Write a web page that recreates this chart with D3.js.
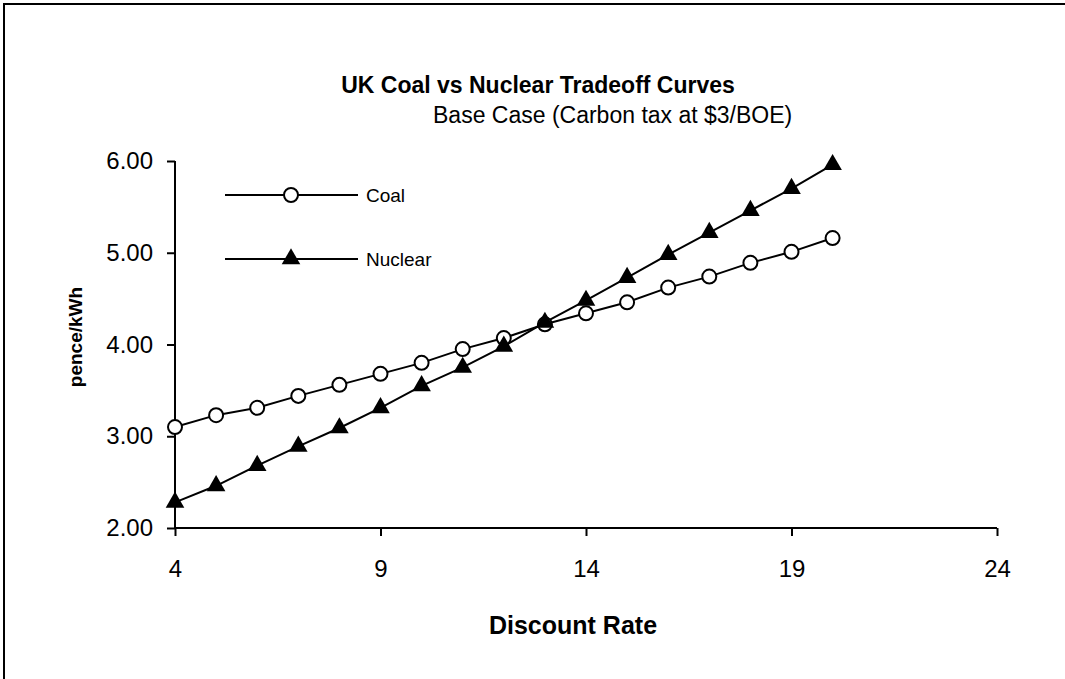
<!DOCTYPE html>
<html><head><meta charset="utf-8">
<script src="https://cdn.jsdelivr.net/npm/d3@7"></script>
<style>body{margin:0;background:#fff}svg{display:block}text{font-family:"Liberation Sans",Arial,sans-serif}</style>
</head><body><svg id="c" width="1065" height="679"></svg>
<script>
const rates = [4,5,6,7,8,9,10,11,12,13,14,15,16,17,18,19,20];
const coal = [3.10,3.23,3.31,3.44,3.56,3.68,3.80,3.95,4.07,4.22,4.34,4.46,4.62,4.74,4.89,5.01,5.16];
const nuclear = [2.28,2.46,2.68,2.89,3.09,3.31,3.55,3.75,3.98,4.24,4.48,4.73,4.98,5.22,5.46,5.70,5.96];
const xTicks = [4,9,14,19,24];
const yTicks = [2,3,4,5,6];
const seriesNames = ["Coal","Nuclear"];
const title = "UK Coal vs Nuclear Tradeoff Curves";
const subtitle = "Base Case (Carbon tax at $3/BOE)";

const svg = d3.select("#c");
// outer frame (extends past right/bottom of view)
svg.append("rect").attr("x",4).attr("y",4).attr("width",1100).attr("height",700)
  .attr("fill","none").attr("stroke","#000").attr("stroke-width",2);

const x = d3.scaleLinear().domain([4,24]).range([175,997]);
const y = d3.scaleLinear().domain([2,6]).range([528,161]);

const xAxis = svg.append("g").attr("transform","translate(0,528)")
  .call(d3.axisBottom(x).tickValues(xTicks).tickSize(8).tickPadding(24).tickFormat(d3.format("d")));
const yAxis = svg.append("g").attr("transform","translate(175,0)")
  .call(d3.axisLeft(y).tickValues(yTicks).tickSize(8).tickPadding(14).tickFormat(d3.format(".2f")));
[xAxis,yAxis].forEach(g=>{
  g.select(".domain").attr("stroke","#000").attr("stroke-width",2);
  g.selectAll(".tick line").attr("stroke","#000").attr("stroke-width",2);
  g.selectAll(".tick text").attr("fill","#000").style("font-size","24px").style("font-family","'Liberation Sans',Arial,sans-serif");
});
xAxis.select(".domain").attr("d",`M${x.range()[0]},0H${x.range()[1]}`);
yAxis.select(".domain").attr("d",`M0,${y.range()[0]}V${y.range()[1]}`);

const line = d3.line().x(d=>x(d[0])).y(d=>y(d[1]));
const coalPts = rates.map((r,i)=>[r,coal[i]]);
const nucPts = rates.map((r,i)=>[r,nuclear[i]]);
const tri = d3.symbol().type(d3.symbolTriangle).size(150);

svg.append("path").datum(coalPts).attr("d",line).attr("fill","none").attr("stroke","#000").attr("stroke-width",2);
svg.append("path").datum(nucPts).attr("d",line).attr("fill","none").attr("stroke","#000").attr("stroke-width",2);
svg.selectAll(".coalpt").data(coalPts).enter().append("circle")
  .attr("cx",d=>x(d[0])).attr("cy",d=>y(d[1])).attr("r",7)
  .attr("fill","#fff").attr("stroke","#000").attr("stroke-width",2);
svg.selectAll(".nucpt").data(nucPts).enter().append("path")
  .attr("d",tri).attr("transform",d=>`translate(${x(d[0])},${y(d[1])})`).attr("fill","#000");

// legend
const leg = svg.append("g");
[[195,"circle"],[259,"tri"]].forEach((it,i)=>{
  const ly = it[0];
  leg.append("line").attr("x1",225).attr("x2",358).attr("y1",ly).attr("y2",ly).attr("stroke","#000").attr("stroke-width",2);
  if(it[1]==="circle"){
    leg.append("circle").attr("cx",291).attr("cy",ly).attr("r",7).attr("fill","#fff").attr("stroke","#000").attr("stroke-width",2);
  } else {
    leg.append("path").attr("d",tri).attr("transform",`translate(291,${ly})`).attr("fill","#000");
  }
  leg.append("text").attr("x",366).attr("y",ly+7).style("font-size","19px").text(seriesNames[i]);
});

svg.append("text").attr("x",538).attr("y",93).attr("text-anchor","middle")
  .style("font-size","23px").style("font-weight","bold").text(title);
svg.append("text").attr("x",433).attr("y",123)
  .style("font-size","23px").text(subtitle);
svg.append("text").attr("x",573).attr("y",634).attr("text-anchor","middle")
  .style("font-size","25px").style("font-weight","bold").text("Discount Rate");
svg.append("text").attr("transform","translate(82,337) rotate(-90)").attr("text-anchor","middle")
  .style("font-size","19px").style("font-weight","bold").text("pence/kWh");
</script></body></html>
